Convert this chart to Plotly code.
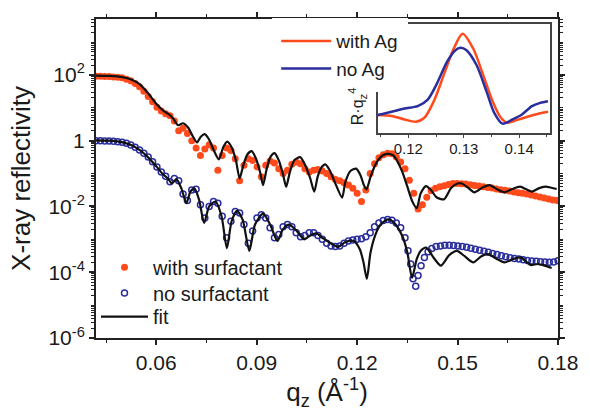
import plotly.graph_objects as go

# ---------------- data ----------------
# main plot: q_z (1/Angstrom) and log10(reflectivity)
q_with = [0.0420, 0.0433, 0.0446, 0.0459, 0.0472, 0.0485, 0.0498, 0.0511, 0.0524, 0.0537,
          0.0550, 0.0563, 0.0576, 0.0589, 0.0602, 0.0615, 0.0628, 0.0641, 0.0654, 0.0667,
          0.0680, 0.0693, 0.0706, 0.0719, 0.0732, 0.0745, 0.0758, 0.0771, 0.0784, 0.0797,
          0.0810, 0.0823, 0.0836, 0.0849, 0.0862, 0.0875, 0.0888, 0.0901, 0.0914, 0.0927,
          0.0940, 0.0953, 0.0966, 0.0979, 0.0992, 0.1005, 0.1018, 0.1031, 0.1044, 0.1057,
          0.1070, 0.1083, 0.1096, 0.1109, 0.1122, 0.1135, 0.1148, 0.1161, 0.1174, 0.1187,
          0.1200, 0.1213, 0.1226, 0.1239, 0.1252, 0.1265, 0.1278, 0.1291, 0.1304, 0.1317,
          0.1330, 0.1343, 0.1356, 0.1369, 0.1382, 0.1395, 0.1408, 0.1421, 0.1434, 0.1447,
          0.1460, 0.1473, 0.1486, 0.1499, 0.1512, 0.1525, 0.1538, 0.1551, 0.1564, 0.1577,
          0.1590, 0.1603, 0.1616, 0.1629, 0.1642, 0.1655, 0.1668, 0.1681, 0.1694, 0.1707,
          0.1720, 0.1733, 0.1746, 0.1759, 0.1772, 0.1785, 0.1798]
logr_with = [1.96, 1.96, 1.95, 1.95, 1.94, 1.93, 1.91, 1.87, 1.82, 1.74,
             1.64, 1.50, 1.34, 1.18, 1.02, 0.90, 0.82, 0.76, 0.60, 0.30,
             0.38, 0.22, 0.00, -0.22, -0.45, -0.25, -0.12, -0.22, -0.90, -0.45,
             -0.22, -0.30, -0.55, -1.22, -0.75, -0.55, -0.60, -0.80, -1.10, -0.75,
             -0.62, -0.68, -0.85, -1.00, -0.90, -0.72, -0.65, -0.70, -0.85, -0.95,
             -0.90, -0.88, -0.92, -1.00, -1.10, -1.18, -1.22, -1.28, -1.35, -1.45,
             -1.60, -1.85, -1.50, -1.00, -0.70, -0.52, -0.43, -0.38, -0.40, -0.50,
             -0.65, -0.85, -1.20, -1.60, -2.08, -1.95, -1.72, -1.52, -1.45, -1.40,
             -1.37, -1.33, -1.30, -1.30, -1.31, -1.32, -1.34, -1.36, -1.38, -1.40,
             -1.42, -1.44, -1.47, -1.49, -1.51, -1.53, -1.56, -1.58, -1.60, -1.62,
             -1.65, -1.68, -1.71, -1.74, -1.77, -1.80, -1.82]

q_without = [0.0420, 0.0433, 0.0446, 0.0459, 0.0472, 0.0485, 0.0498, 0.0511, 0.0524, 0.0537,
             0.0550, 0.0563, 0.0576, 0.0589, 0.0602, 0.0615, 0.0628, 0.0641, 0.0654, 0.0667,
             0.0680, 0.0693, 0.0706, 0.0719, 0.0732, 0.0745, 0.0758, 0.0771, 0.0784, 0.0797,
             0.0810, 0.0823, 0.0836, 0.0849, 0.0862, 0.0875, 0.0888, 0.0901, 0.0914, 0.0927,
             0.0940, 0.0953, 0.0966, 0.0979, 0.0992, 0.1005, 0.1018, 0.1031, 0.1044, 0.1057,
             0.1070, 0.1083, 0.1096, 0.1109, 0.1122, 0.1135, 0.1148, 0.1161, 0.1174, 0.1187,
             0.1200, 0.1213, 0.1226, 0.1239, 0.1252, 0.1265, 0.1278, 0.1291, 0.1304, 0.1317,
             0.1330, 0.1343, 0.1352, 0.1360, 0.1367, 0.1375, 0.1382, 0.1391, 0.1401, 0.1412,
             0.1423, 0.1436, 0.1449, 0.1462, 0.1475, 0.1488, 0.1501, 0.1514, 0.1527, 0.1540,
             0.1553, 0.1566, 0.1579, 0.1592, 0.1605, 0.1618, 0.1631, 0.1644, 0.1657, 0.1670,
             0.1683, 0.1696, 0.1709, 0.1722, 0.1735, 0.1748, 0.1761, 0.1774, 0.1787, 0.1800]
logr_without = [0.00, 0.00, -0.01, -0.01, -0.02, -0.03, -0.05, -0.08, -0.13, -0.20,
                -0.28, -0.38, -0.50, -0.64, -0.80, -0.95, -1.08, -1.25, -1.15, -1.22,
                -1.62, -1.82, -1.50, -1.48, -1.95, -2.35, -2.00, -1.85, -1.90, -2.30,
                -2.95, -2.45, -2.15, -2.20, -2.55, -3.12, -2.75, -2.35, -2.25, -2.35,
                -2.65, -2.95, -2.85, -2.62, -2.55, -2.62, -2.80, -2.92, -2.88, -2.80,
                -2.80, -2.88, -3.00, -3.12, -3.20, -3.22, -3.20, -3.12, -3.05, -3.02,
                -3.00, -2.98, -2.92, -2.80, -2.62, -2.50, -2.43, -2.40, -2.42, -2.50,
                -2.65, -2.95, -3.35, -3.75, -4.20, -4.43, -4.10, -3.80, -3.55, -3.38,
                -3.28, -3.22, -3.20, -3.18, -3.18, -3.19, -3.20, -3.22, -3.24, -3.27,
                -3.30, -3.33, -3.36, -3.39, -3.43, -3.46, -3.50, -3.53, -3.56, -3.58,
                -3.60, -3.62, -3.64, -3.66, -3.67, -3.68, -3.69, -3.70, -3.69, -3.65]

q_fit_with = [0.0420, 0.0460, 0.0500, 0.0525, 0.0550, 0.0575, 0.0600, 0.0620, 0.0635, 0.0650,
              0.0665, 0.0680, 0.0695, 0.0710, 0.0722, 0.0733, 0.0745, 0.0757, 0.0770, 0.0787,
              0.0800, 0.0812, 0.0825, 0.0838, 0.0849, 0.0860, 0.0872, 0.0885, 0.0898, 0.0910,
              0.0919, 0.0930, 0.0942, 0.0953, 0.0966, 0.0978, 0.0988, 0.0998, 0.1012, 0.1030,
              0.1045, 0.1060, 0.1072, 0.1082, 0.1093, 0.1105, 0.1118, 0.1135, 0.1155, 0.1165,
              0.1180, 0.1197, 0.1210, 0.1220, 0.1228, 0.1240, 0.1255, 0.1270, 0.1285, 0.1295,
              0.1308, 0.1320, 0.1335, 0.1350, 0.1365, 0.1378, 0.1390, 0.1406, 0.1422, 0.1437,
              0.1460, 0.1480, 0.1500, 0.1513, 0.1530, 0.1550, 0.1575, 0.1596, 0.1618, 0.1640,
              0.1663, 0.1687, 0.1705, 0.1722, 0.1742, 0.1762, 0.1780, 0.1796]
logr_fit_with = [1.98, 1.97, 1.93, 1.86, 1.72, 1.45, 1.12, 0.92, 0.82, 0.68,
                 0.47, 0.53, 0.40, 0.12, -0.05, 0.12, 0.20, 0.05, -0.25, -0.57,
                 -0.20, -0.03, -0.20, -0.60, -1.15, -0.75, -0.42, -0.32, -0.55, -0.95,
                 -1.35, -0.85, -0.48, -0.38, -0.60, -1.00, -1.40, -1.00, -0.60, -0.50,
                 -0.75, -1.15, -1.55, -1.10, -0.82, -0.72, -0.90, -1.30, -1.73, -1.25,
                 -0.92, -0.85, -1.05, -1.35, -1.48, -1.10, -0.72, -0.50, -0.41, -0.40,
                 -0.45, -0.62, -0.95, -1.40, -1.85, -2.05, -1.60, -1.38, -1.52, -1.72,
                 -1.78, -1.45, -1.30, -1.30, -1.42, -1.57, -1.42, -1.35, -1.48, -1.57,
                 -1.47, -1.40, -1.48, -1.55, -1.45, -1.40, -1.43, -1.47]

q_fit_without = [0.0420, 0.0460, 0.0500, 0.0525, 0.0550, 0.0575, 0.0600, 0.0620, 0.0635, 0.0646,
                 0.0660, 0.0675, 0.0690, 0.0702, 0.0714, 0.0728, 0.0743, 0.0758, 0.0777, 0.0795,
                 0.0811, 0.0825, 0.0841, 0.0858, 0.0878, 0.0895, 0.0919, 0.0940, 0.0962, 0.0978,
                 0.0997, 0.1020, 0.1042, 0.1060, 0.1078, 0.1100, 0.1143, 0.1165, 0.1190, 0.1208,
                 0.1219, 0.1229, 0.1240, 0.1255, 0.1270, 0.1290, 0.1300, 0.1315, 0.1335, 0.1350,
                 0.1364, 0.1378, 0.1390, 0.1406, 0.1428, 0.1450, 0.1475, 0.1498, 0.1522, 0.1547,
                 0.1570, 0.1591, 0.1615, 0.1640, 0.1665, 0.1689, 0.1705, 0.1718, 0.1740, 0.1760,
                 0.1781]
logr_fit_without = [0.01, 0.00, -0.05, -0.13, -0.28, -0.50, -0.78, -1.02, -1.15, -1.30,
                    -1.17, -1.45, -1.90, -1.55, -1.45, -1.80, -2.50, -2.00, -1.85, -2.30,
                    -3.27, -2.45, -2.13, -2.40, -3.35, -2.55, -2.22, -2.55, -3.05, -2.70,
                    -2.55, -2.75, -3.00, -2.88, -2.82, -2.98, -3.23, -3.08, -3.05, -3.30,
                    -3.70, -4.20, -3.40, -2.85, -2.55, -2.40, -2.41, -2.55, -2.90, -3.40,
                    -4.17, -3.60, -3.35, -3.25, -3.55, -3.80, -3.48, -3.35, -3.52, -3.70,
                    -3.52, -3.45, -3.58, -3.70, -3.60, -3.55, -3.68, -3.78, -3.75, -3.80,
                    -3.87]

# inset: R*q_z^4 (arbitrary units)
q_inset_ag = [0.1145, 0.1170, 0.1193, 0.1214, 0.1229, 0.1246, 0.1264, 0.1282, 0.1298,
              0.1317, 0.1335, 0.1352, 0.1367, 0.1379, 0.1399, 0.1429, 0.1452]
rq4_ag = [17.7, 16.7, 13.3, 11.0, 15.0, 31.7, 58.3, 85.0, 100.0,
          85.0, 58.3, 31.7, 15.0, 10.0, 13.3, 18.3, 21.0]
q_inset_noag = [0.1145, 0.1170, 0.1193, 0.1217, 0.1235, 0.1252, 0.1270, 0.1285, 0.1294, 0.1305,
                0.1323, 0.1341, 0.1355, 0.1370, 0.1388, 0.1405, 0.1423, 0.1438, 0.1452]
rq4_noag = [17.7, 21.0, 24.3, 26.7, 33.3, 50.0, 71.7, 83.3, 85.7, 83.3,
            68.3, 41.7, 20.0, 9.0, 13.3, 18.3, 26.7, 30.0, 31.7]

x_ticks = [0.06, 0.09, 0.12, 0.15, 0.18]
x_ticktext = ["0.06", "0.09", "0.12", "0.15", "0.18"]
y_ticks = [1e-6, 1e-4, 1e-2, 1, 1e2]
y_ticktext = ["10<sup>-6</sup>", "10<sup>-4</sup>", "10<sup>-2</sup>", "1", "10<sup>2</sup>"]
inset_ticks = [0.12, 0.13, 0.14]
inset_ticktext = ["0.12", "0.13", "0.14"]

# ---------------- styling ----------------
RED = "#FF4A1C"
BLUE = "#2A2E9C"
FONT = "Liberation Sans, Arial, sans-serif"
TXT = "#1a1a1a"

fig = go.Figure()

fig.add_trace(go.Scatter(
    x=q_with, y=[10 ** v for v in logr_with], mode="markers", name="with surfactant",
    marker=dict(symbol="circle", size=7, color=RED, line=dict(width=0)),
    legend="legend"))
fig.add_trace(go.Scatter(
    x=q_without, y=[10 ** v for v in logr_without], mode="markers", name="no surfactant",
    marker=dict(symbol="circle-open", size=6, color=BLUE, line=dict(width=1.5)),
    legend="legend3"))
fig.add_trace(go.Scatter(
    x=q_fit_with, y=[10 ** v for v in logr_fit_with], mode="lines", name="fit",
    line=dict(color="#111111", width=2.2, shape="spline", smoothing=0.7),
    legend="legend4"))
fig.add_trace(go.Scatter(
    x=q_fit_without, y=[10 ** v for v in logr_fit_without], mode="lines", name="fit",
    line=dict(color="#111111", width=2.2, shape="spline", smoothing=0.7),
    showlegend=False))

fig.add_trace(go.Scatter(
    x=q_inset_ag, y=rq4_ag, mode="lines", name="with Ag", xaxis="x2", yaxis="y2",
    line=dict(color=RED, width=2.5, shape="spline", smoothing=0.8), legend="legend2"))
fig.add_trace(go.Scatter(
    x=q_inset_noag, y=rq4_noag, mode="lines", name="no Ag", xaxis="x2", yaxis="y2",
    line=dict(color=BLUE, width=2.5, shape="spline", smoothing=0.8), legend="legend2"))

x_minor = [0.045, 0.075, 0.105, 0.135, 0.165]
y_minor = [k * 10.0 ** e for e in range(-6, 4) for k in range(1, 10)
           if not (k == 1 and e % 2 == 0)]

main_leg = dict(xanchor="left", yanchor="middle", font=dict(size=20, color=TXT),
                itemwidth=47, bgcolor="rgba(0,0,0,0)", borderwidth=0)

fig.update_layout(
    width=590, height=414,
    margin=dict(l=96, r=22, t=15, b=76),
    paper_bgcolor="white", plot_bgcolor="white",
    font=dict(family=FONT, color=TXT, size=20),
    xaxis=dict(
        domain=[0, 1], range=[0.042, 0.18],
        tickmode="array", tickvals=x_ticks, ticktext=x_ticktext,
        ticks="outside", ticklen=5, tickwidth=1.5, tickcolor="#222",
        showline=True, linewidth=2, linecolor="#222", mirror="allticks",
        showgrid=False, zeroline=False,
        tickfont=dict(size=21, color=TXT),
        minor=dict(tickmode="array", tickvals=x_minor, ticks="outside", ticklen=3,
                   tickwidth=1.2, tickcolor="#222", showgrid=False),
        title=dict(text="q<sub>z</sub> (Å<sup>-1</sup>)", font=dict(size=26, color=TXT), standoff=4),
    ),
    yaxis=dict(
        type="log", range=[-6, 3.7], domain=[0, 1],
        tickmode="array", tickvals=y_ticks, ticktext=y_ticktext,
        ticks="outside", ticklen=5, tickwidth=1.5, tickcolor="#222",
        showline=True, linewidth=2, linecolor="#222", mirror="allticks",
        showgrid=False, zeroline=False,
        tickfont=dict(size=21, color=TXT),
        minor=dict(tickmode="array", tickvals=y_minor, ticks="outside", ticklen=3,
                   tickwidth=1.2, tickcolor="#222", showgrid=False),
        title=dict(text="X-ray reflectivity", font=dict(size=26, color=TXT), standoff=10),
    ),
    xaxis2=dict(
        domain=[0.61, 0.982], anchor="y2", range=[0.1145, 0.1455],
        tickmode="array", tickvals=inset_ticks, ticktext=inset_ticktext,
        ticks="outside", ticklen=4, tickwidth=1.2, tickcolor="#444",
        showline=True, linewidth=1.5, linecolor="#444", mirror=True,
        showgrid=False, zeroline=False, ticklabelstandoff=-2,
        tickfont=dict(size=15, color=TXT),
        minor=dict(tickmode="array", tickvals=[0.115, 0.125, 0.135, 0.145], ticks="outside",
                   ticklen=3, tickwidth=1.2, tickcolor="#444", showgrid=False),
    ),
    yaxis2=dict(
        domain=[0.644, 0.985], anchor="x2", range=[0, 110],
        showticklabels=False, ticks="",
        showline=True, linewidth=1.5, linecolor="#444", mirror=True,
        showgrid=False, zeroline=False,
    ),
    annotations=[dict(
        text="R·q<sub>z</sub><sup>4</sup>", textangle=-90, showarrow=False,
        xref="paper", yref="paper", x=0.5657, y=0.7276, xanchor="center", yanchor="middle",
        font=dict(size=16, color=TXT),
    )],
    legend=dict(main_leg, x=0.0, y=0.222),
    legend3=dict(main_leg, x=0.0, y=0.141),
    legend4=dict(main_leg, x=0.0, y=0.067),
    legend2=dict(x=0.3814, y=0.887, xanchor="left", yanchor="middle",
                 font=dict(size=19, color=TXT), itemwidth=50,
                 bgcolor="white", bordercolor="white", borderwidth=4),
    showlegend=True,
)

fig.write_html("out.html", config={"displayModeBar": False},
               post_script="document.body.style.margin='0px';")
